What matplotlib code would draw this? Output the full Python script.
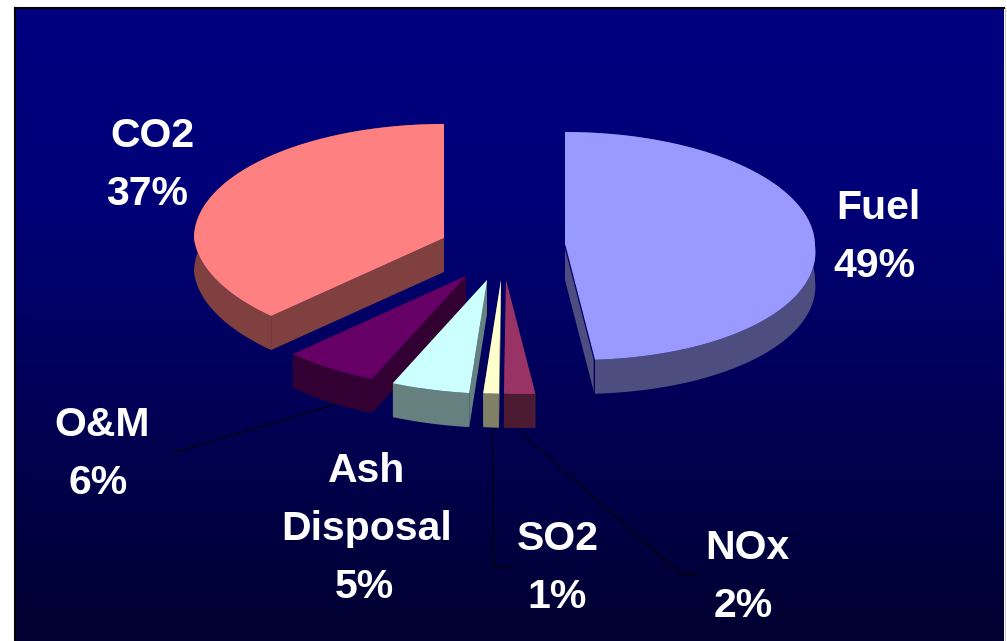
import numpy as np
import matplotlib
matplotlib.use("Agg")
import matplotlib.pyplot as plt
from matplotlib.patches import Polygon

plt.rcParams['font.family'] = ['Liberation Sans', 'DejaVu Sans']

# Cost shares, clockwise from 12 o'clock
labels = ["Fuel", "NOx", "SO2", "Ash\nDisposal", "O&M", "CO2"]
values = [49, 2, 1, 5, 6, 37]

# Look of each slice, same order as the values
top_colors = ["#9999ff", "#993366", "#ffffcc", "#ccffff", "#660066", "#ff8080"]
side_colors = ["#4d4d80", "#4d1a33", "#808066", "#668080", "#330033", "#804040"]
explode_x = [64, 5, 0, -14, -35, -57]
explode_y = [1, 35, 35, 35, 31, -7]
label_x = [878, 747, 558, 367, 102, 152]
label_y = [208, 548, 539, 471, 425, 136]
pct_dx = [-4, -4, -1, -3, -4, -5]

# Pie projection
cx, cy = 501, 245
rx, ry = 250, 114
shear = 0.12
depth = 34
line_gap = 58


def rim(theta):
    # points on the tilted circle, the front half leans to the right
    dy = -ry * np.cos(theta)
    dx = rx * np.sin(theta) + shear * np.maximum(dy, 0)
    return dx, dy


fig = plt.figure(figsize=(10.07, 6.41), dpi=100, facecolor="white")
ax = fig.add_axes([0, 0, 1, 1])
ax.axis("off")

# Background gradient
shade = np.interp(np.linspace(0, 1, 256), [0, 0.3, 1], [128, 120, 48])
grad = np.zeros((256, 1, 3))
grad[:, 0, 2] = shade / 255
ax.imshow(grad, extent=[15, 1004, 641, 8], aspect="auto", zorder=0)
ax.plot([15, 15], [641, 8], color="black", lw=1.5, zorder=1)
ax.plot([15, 1004], [8, 8], color="black", lw=1.5, zorder=1)
ax.plot([1004.5, 1004.5], [641, 8], color="#cccccc", lw=0.8, zorder=1)
ax.set_xlim(0, 1007)
ax.set_ylim(641, 0)

# Leader lines
ax.plot([333, 172], [405, 453], color="black", lw=0.8, zorder=2)
ax.plot([492, 494, 510], [430, 567, 567], color="black", lw=0.8, zorder=2)
ax.plot([518, 682, 700], [430, 575, 575], color="black", lw=0.8, zorder=2)

# Angles of the slices
edges = np.cumsum([0] + values) / sum(values) * 2 * np.pi

order = [5, 4, 3, 2, 1, 0]
for z, i in enumerate(order):
    a, b = edges[i], edges[i + 1]
    ax0 = cx + explode_x[i]
    ay0 = cy + explode_y[i]
    th = np.linspace(a, b, 120)
    dx, dy = rim(th)
    xs = ax0 + dx
    ys = ay0 + dy

    zz = 3 + z
    # cut faces
    for k in [0, -1]:
        ax.add_patch(Polygon([(ax0, ay0), (ax0, ay0 + depth), (xs[k], ys[k] + depth), (xs[k], ys[k])],
                             closed=True, fc=side_colors[i], ec="none", zorder=zz))
    # outer wall
    wall = np.column_stack([np.r_[xs, xs[::-1]], np.r_[ys, ys[::-1] + depth]])
    ax.add_patch(Polygon(wall, closed=True, fc=side_colors[i], ec="none", zorder=zz))
    # top
    top = np.column_stack([np.r_[ax0, xs], np.r_[ay0, ys]])
    ax.add_patch(Polygon(top, closed=True, fc=top_colors[i], ec="none", zorder=zz + 0.5))

    if labels[i] == "Fuel":
        ax.plot([ax0, xs[-1], xs[-1]], [ay0, ys[-1], ys[-1] + depth], color="#000060", lw=0.9, zorder=zz + 0.6)

# Labels
for i, lab in enumerate(labels):
    y = label_y[i]
    for part in lab.split("\n"):
        ax.text(label_x[i], y, part, color="white", fontsize=29.5, fontweight="bold",
                ha="center", va="center", zorder=20)
        y += line_gap
    ax.text(label_x[i] + pct_dx[i], y, f"{values[i]}%", color="white", fontsize=29.5,
            fontweight="bold", ha="center", va="center", zorder=20)

fig.savefig("out.png", dpi=100)
